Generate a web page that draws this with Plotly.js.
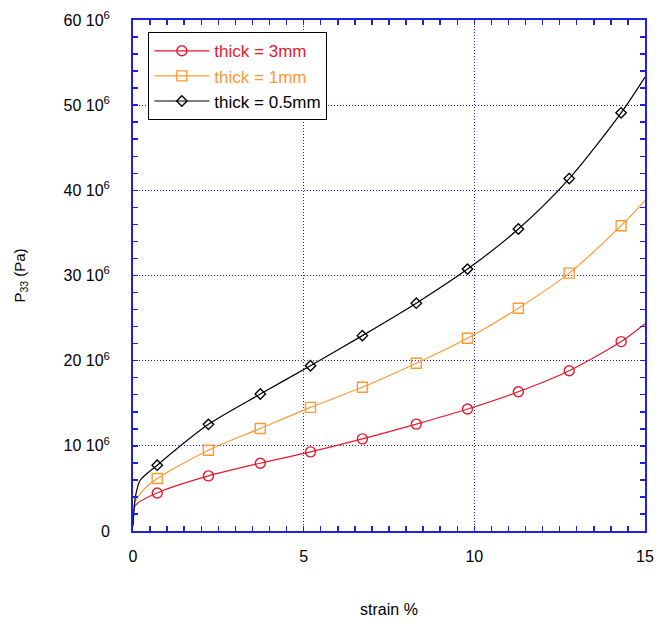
<!DOCTYPE html>
<html>
<head>
<meta charset="utf-8">
<script src="https://cdn.plot.ly/plotly-3.0.1.min.js"></script>
<style>html,body{margin:0;padding:0;background:#fff;}#chart{width:656px;height:621px;}</style>
</head>
<body>
<div id="chart"></div>
<script>
// values in units of 10^6 Pa, strain in %
const markerStrain = [0.71, 2.21, 3.73, 5.2, 6.72, 8.3, 9.8, 11.29, 12.78, 14.3];
const p3mm   = [4.47, 6.47, 7.96, 9.29, 10.82, 12.55, 14.32, 16.35, 18.82, 22.24];
const p1mm   = [6.16, 9.49, 12.04, 14.52, 16.87, 19.69, 22.63, 26.16, 30.28, 35.85];
const p05mm  = [7.73, 12.52, 16.08, 19.41, 22.94, 26.75, 30.75, 35.46, 41.38, 49.1];

// start-of-curve and end-of-curve readings (lines only)
const startStrain3mm = [0, 0.07];      const startP3mm = [0.8, 3.0];
const startStrain1mm = [0, 0.06, 0.3]; const startP1mm = [0.9, 3.4, 4.8];
const startStrain05mm = [0, 0.07, 0.21]; const startP05mm = [0.6, 4.0, 5.96];
const endStrain = 15;
const endP3mm = 24.35, endP1mm = 38.8, endP05mm = 53.3;

const names = ['thick = 3mm', 'thick = 1mm', 'thick = 0.5mm'];
const colors = ['#e8192c', '#ff9933', '#000000'];
const symbols = ['circle-open', 'square-open', 'diamond-open'];
const sizes = [10, 10, 8];

const yTickVals = [0, 10, 20, 30, 40, 50, 60];
const yTickText = ['0', '10 10<sup>6</sup>', '20 10<sup>6</sup>', '30 10<sup>6</sup>', '40 10<sup>6</sup>', '50 10<sup>6</sup>', '60 10<sup>6</sup>'];

const series = [
  {sx: startStrain3mm, sy: startP3mm, my: p3mm, ey: endP3mm},
  {sx: startStrain1mm, sy: startP1mm, my: p1mm, ey: endP1mm},
  {sx: startStrain05mm, sy: startP05mm, my: p05mm, ey: endP05mm}
];

const traces = [];
series.forEach((s, i) => {
  traces.push({
    x: s.sx.concat(markerStrain, [endStrain]),
    y: s.sy.concat(s.my, [s.ey]),
    mode: 'lines', type: 'scatter', showlegend: false, hoverinfo: 'skip',
    line: {color: colors[i], width: 1.2, shape: 'spline', smoothing: 0.8}
  });
  traces.push({
    x: markerStrain, y: s.my, mode: 'markers', type: 'scatter', showlegend: false,
    marker: {symbol: symbols[i], size: sizes[i], color: colors[i], line: {width: 1.4, color: colors[i]}}
  });
  traces.push({
    x: [null], y: [null], mode: 'lines+markers', type: 'scatter',
    name: '<span style="color:' + colors[i] + '">' + names[i] + '</span>',
    line: {color: colors[i], width: 1.2},
    marker: {symbol: symbols[i], size: sizes[i], color: colors[i], line: {width: 1.4, color: colors[i]}}
  });
});

const blue = '#2020e0';
const layout = {
  width: 656, height: 621,
  margin: {l: 133, r: 11, t: 20, b: 90},
  paper_bgcolor: '#fff', plot_bgcolor: '#fff',
  font: {family: 'Arial, "Liberation Sans", sans-serif', color: '#000', size: 16},
  showlegend: true,
  legend: {x: 0.03, y: 0.976, xanchor: 'left', yanchor: 'top', bgcolor: '#fff',
           bordercolor: '#000', borderwidth: 1, font: {size: 17}, itemwidth: 55, tracegroupgap: 0},
  xaxis: {
    range: [0, 15], tickvals: [0, 5, 10, 15], ticks: 'inside', ticklen: 5, tickcolor: blue, tickwidth: 1.5,
    showline: true, linecolor: blue, linewidth: 2, mirror: 'ticks', zeroline: false,
    showgrid: true, gridcolor: blue, gridwidth: 1, griddash: '1px,2px',
    minor: {dtick: 0.5, ticks: 'inside', ticklen: 5, tickcolor: blue, tickwidth: 1.5, showgrid: false},
    ticklabelstandoff: 10, tickfont: {size: 16},
    title: {text: 'strain %', font: {size: 16}, standoff: 40}
  },
  yaxis: {
    range: [0, 60], tickvals: yTickVals, ticktext: yTickText, ticks: 'inside', ticklen: 5, tickcolor: blue, tickwidth: 1.5,
    showline: true, linecolor: blue, linewidth: 2, mirror: 'ticks', zeroline: false,
    showgrid: true, gridcolor: blue, gridwidth: 1, griddash: '1px,2px',
    minor: {dtick: 2, ticks: 'inside', ticklen: 5, tickcolor: blue, tickwidth: 1.5, showgrid: false},
    ticklabelstandoff: 18, tickfont: {size: 16},
    title: {text: 'P<sub>33</sub> (Pa)', font: {size: 15}, standoff: 34}
  }
};

Plotly.newPlot('chart', traces, layout, {displayModeBar: false, staticPlot: true});
</script>
</body>
</html>
